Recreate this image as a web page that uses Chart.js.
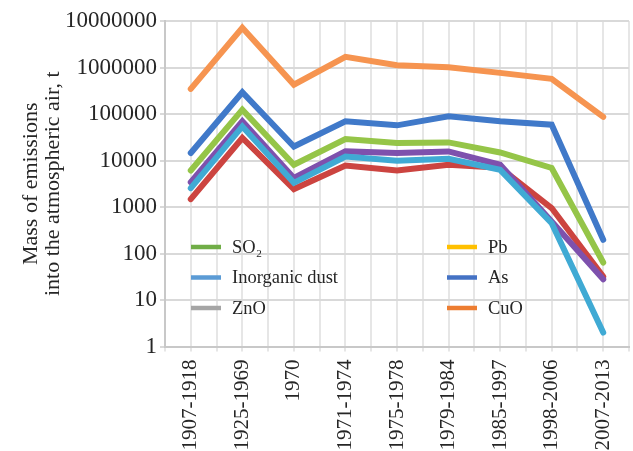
<!DOCTYPE html>
<html>
<head>
<meta charset="utf-8">
<script src="https://cdn.jsdelivr.net/npm/chart.js@4"></script>
<style>
  html, body { margin: 0; padding: 0; background: #ffffff; }
  #wrap { width: 633px; height: 451px; }
</style>
</head>
<body>
<div id="wrap"><canvas id="c" width="633" height="451"></canvas></div>
<script>
// ---- data ----
const categories = ['1907-1918','1925-1969','1970','1971-1974','1975-1978','1979-1984','1985-1997','1998-2006','2007-2013'];
const yTickValues = [1, 10, 100, 1000, 10000, 100000, 1000000, 10000000];

const seriesNames  = ['Inorganic dust', 'CuO', 'ZnO', 'Pb', 'As', 'SO2'];
const seriesColors = ['#4079c9', '#cc4440', '#95c548', '#7e51ad', '#40aad4', '#f69450'];

const dustValues = [14500, 293000, 20000, 69500, 57000, 89000, 69500, 59000, 197];
const cuoValues  = [1480, 30500, 2430, 7800, 6100, 8100, 7000, 950, 32];
const znoValues  = [6100, 124000, 8100, 29000, 23800, 24500, 14900, 6900, 64];
const pbValues   = [3400, 69500, 4200, 15700, 14500, 15700, 8100, 490, 28];
const asValues   = [2550, 54000, 3300, 12200, 9900, 10900, 6300, 450, 2];
const so2Values  = [347000, 7140000, 428000, 1690000, 1120000, 1010000, 766000, 569000, 86500];

const legendLabels = ['SO₂', 'Inorganic dust', 'ZnO', 'Pb', 'As', 'CuO'];
const legendColors = ['#70ad47', '#5b9bd5', '#a5a5a5', '#ffc000', '#4472c4', '#ed7d31'];

const yTitle = ['Mass of emissions', 'into the atmospheric air, t'];

// ---- build ----
const allValues = [dustValues, cuoValues, znoValues, pbValues, asValues, so2Values];
const datasets = allValues.map((vals, i) => ({
  label: seriesNames[i],
  data: vals.map((v, k) => ({ x: k, y: v })),
  borderColor: seriesColors[i],
  backgroundColor: seriesColors[i],
  borderWidth: 6,
  pointRadius: 0,
  borderCapStyle: 'round',
  borderJoinStyle: 'miter',
  tension: 0,
  fill: false,
  order: allValues.length - i
}));

const serif = "'Liberation Serif', 'Times New Roman', serif";
const textColor = '#262626';

const insideLegend = {
  id: 'insideLegend',
  afterDatasetsDraw(chart) {
    const ctx = chart.ctx;
    const a = chart.chartArea;
    const colX = [a.left + 26, a.left + 282];
    const rowY0 = a.top + 226;
    const rowGap = 30.5;
    ctx.save();
    ctx.font = '18.5px ' + serif;
    ctx.textBaseline = 'middle';
    ctx.textAlign = 'left';
    legendLabels.forEach((lab, i) => {
      const col = Math.floor(i / 3);
      const row = i % 3;
      const x = colX[col];
      const y = rowY0 + row * rowGap;
      ctx.strokeStyle = legendColors[i];
      ctx.lineWidth = 4.5;
      ctx.lineCap = 'butt';
      ctx.beginPath();
      ctx.moveTo(x, y);
      ctx.lineTo(x + 30, y);
      ctx.stroke();
      ctx.fillStyle = textColor;
      ctx.fillText(lab, x + 41, y + 1);
    });
    ctx.restore();
  }
};

new Chart(document.getElementById('c'), {
  type: 'line',
  data: { datasets },
  plugins: [insideLegend],
  options: {
    responsive: false,
    animation: false,
    devicePixelRatio: 1,
    layout: { padding: { top: 21, right: 4, left: 0, bottom: 0 } },
    plugins: { legend: { display: false }, tooltip: { enabled: false } },
    scales: {
      x: {
        type: 'linear',
        min: -0.5,
        max: categories.length - 0.5,
        afterBuildTicks(scale) {
          const t = [];
          for (let k = 0; k <= categories.length * 2; k++) t.push({ value: -0.5 + k * 0.5 });
          scale.ticks = t;
        },
        afterFit(scale) {
          scale.height = 104.5;
          scale.paddingLeft = 0; scale.paddingRight = 0;
          scale.paddingTop = 0; scale.paddingBottom = 0;
        },
        grid: { color: '#e6e6e6', lineWidth: 2, tickLength: 5, drawTicks: true },
        border: { color: '#c8c8c8', width: 2 },
        ticks: {
          autoSkip: false,
          minRotation: 90,
          maxRotation: 90,
          padding: 8,
          color: textColor,
          font: { family: serif, size: 21 },
          callback(v) { return Number.isInteger(v) ? categories[v] : ''; }
        }
      },
      y: {
        type: 'logarithmic',
        min: 1,
        max: 10000000,
        afterBuildTicks(scale) { scale.ticks = yTickValues.map(v => ({ value: v })); },
        afterFit(scale) {
          scale.width = 165;
          scale.paddingLeft = 0; scale.paddingRight = 0;
          scale.paddingTop = 0; scale.paddingBottom = 0;
        },
        grid: { color: '#d9d9d9', lineWidth: 2, tickLength: 5 },
        border: { color: '#c8c8c8', width: 2 },
        ticks: {
          padding: 3,
          color: textColor,
          font: { family: serif, size: 23 },
          callback(v) { return String(v); }
        },
        title: {
          display: true,
          text: yTitle,
          color: textColor,
          font: { family: serif, size: 22, lineHeight: 1.0 },
          padding: { top: 20, bottom: 0 }
        }
      }
    }
  }
});
</script>
</body>
</html>
